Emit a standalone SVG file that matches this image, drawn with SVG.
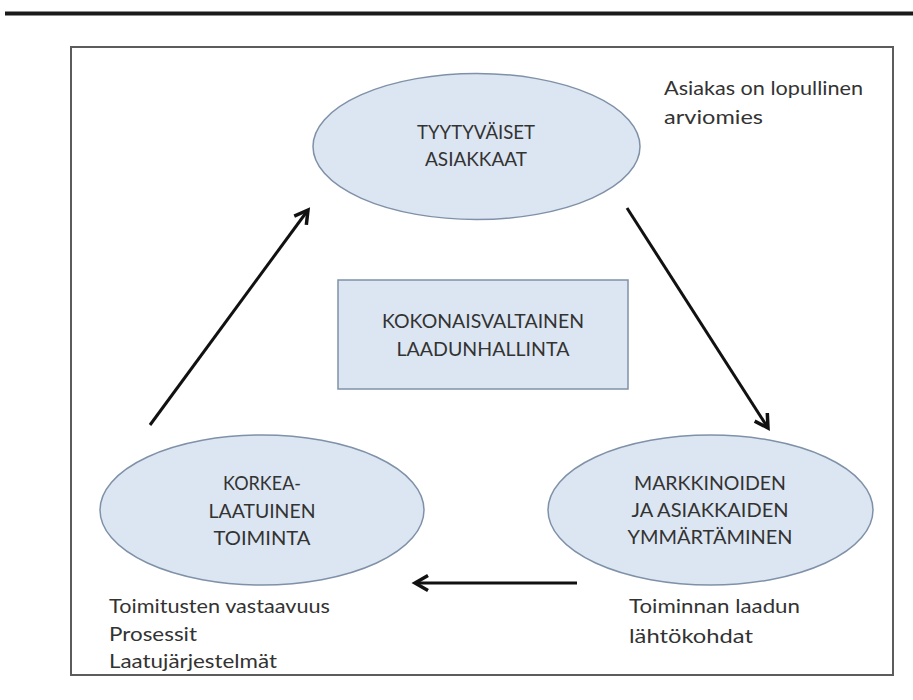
<svg xmlns="http://www.w3.org/2000/svg" width="913" height="700" viewBox="0 0 913 700">
  <style>
    .node { fill: #dce6f2; stroke: #7f91a8; stroke-width: 1.5; }
    .label { font-family: Lato, "Open Sans", "DejaVu Sans", sans-serif; font-size: 20px; fill: #333; text-anchor: middle; }
    .note { font-family: Lato, "Open Sans", "DejaVu Sans", sans-serif; font-size: 20px; fill: #333; }
    .conn { stroke: #111; stroke-width: 3; fill: none; marker-end: url(#head); }
  </style>
  <defs>
    <marker id="head" markerUnits="userSpaceOnUse" markerWidth="24" markerHeight="24" refX="0" refY="0" viewBox="-16 -12 20 24" orient="auto">
      <path d="M -13,-7.5 L 0,0 L -13,7.5" fill="none" stroke="#111" stroke-width="3.5" stroke-linejoin="miter"/>
    </marker>
  </defs>

  <rect width="913" height="700" fill="#fff"/>

  <!-- page rule and frame -->
  <rect x="5" y="11.5" width="908" height="4" fill="#1a1a1a"/>
  <rect x="71" y="47" width="822" height="628" fill="#fff" stroke="#5c5c5c" stroke-width="2"/>

  <g id="connectors">
    <line class="conn" x1="150" y1="425" x2="308" y2="210"/>
    <line class="conn" x1="627" y1="208" x2="768" y2="428"/>
    <line class="conn" x1="577" y1="583" x2="415" y2="583"/>
  </g>

  <g id="satisfied-customers">
    <ellipse class="node" cx="476.5" cy="146.5" rx="163.5" ry="73"/>
    <text class="label" x="476" y="139" textLength="118" lengthAdjust="spacingAndGlyphs">TYYTYVÄISET</text>
    <text class="label" x="476" y="166" textLength="102" lengthAdjust="spacingAndGlyphs">ASIAKKAAT</text>
  </g>

  <g id="customer-note">
    <text class="note" x="664" y="95" textLength="199" lengthAdjust="spacingAndGlyphs">Asiakas on lopullinen</text>
    <text class="note" x="664" y="124" textLength="99" lengthAdjust="spacingAndGlyphs">arviomies</text>
  </g>

  <g id="tqm">
    <rect class="node" x="338" y="280" width="290" height="109"/>
    <text class="label" x="483" y="328" textLength="202" lengthAdjust="spacingAndGlyphs">KOKONAISVALTAINEN</text>
    <text class="label" x="483" y="356" textLength="173" lengthAdjust="spacingAndGlyphs">LAADUNHALLINTA</text>
  </g>

  <g id="high-quality-operations">
    <ellipse class="node" cx="262" cy="510" rx="162" ry="75"/>
    <text class="label" x="262" y="490" textLength="78" lengthAdjust="spacingAndGlyphs">KORKEA-</text>
    <text class="label" x="262" y="518" textLength="107" lengthAdjust="spacingAndGlyphs">LAATUINEN</text>
    <text class="label" x="262" y="545" textLength="97" lengthAdjust="spacingAndGlyphs">TOIMINTA</text>
  </g>

  <g id="operations-note">
    <text class="note" x="109" y="613" textLength="221" lengthAdjust="spacingAndGlyphs">Toimitusten vastaavuus</text>
    <text class="note" x="109" y="641" textLength="88" lengthAdjust="spacingAndGlyphs">Prosessit</text>
    <text class="note" x="109" y="668" textLength="168" lengthAdjust="spacingAndGlyphs">Laatujärjestelmät</text>
  </g>

  <g id="market-understanding">
    <ellipse class="node" cx="710.5" cy="510" rx="162.5" ry="75"/>
    <text class="label" x="710" y="490" textLength="152" lengthAdjust="spacingAndGlyphs">MARKKINOIDEN</text>
    <text class="label" x="710" y="517" textLength="157" lengthAdjust="spacingAndGlyphs">JA ASIAKKAIDEN</text>
    <text class="label" x="710" y="544" textLength="165" lengthAdjust="spacingAndGlyphs">YMMÄRTÄMINEN</text>
  </g>

  <g id="market-note">
    <text class="note" x="629" y="613" textLength="171" lengthAdjust="spacingAndGlyphs">Toiminnan laadun</text>
    <text class="note" x="629" y="643" textLength="124" lengthAdjust="spacingAndGlyphs">lähtökohdat</text>
  </g>
</svg>
